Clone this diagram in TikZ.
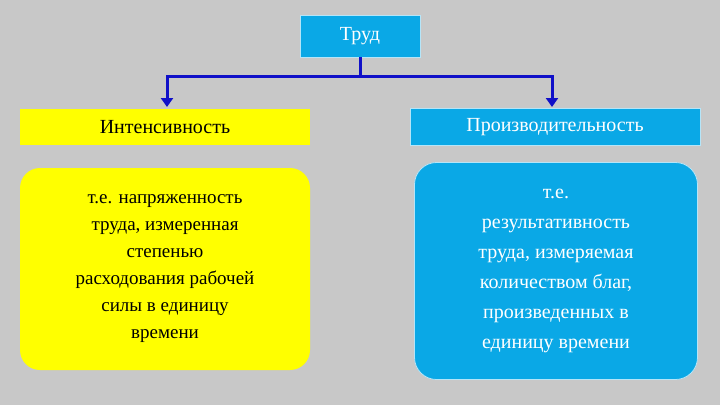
\documentclass[tikz,border=0pt]{standalone}
\usepackage{fontspec}
\setmainfont{Liberation Serif}
\usetikzlibrary{arrows.meta}
\definecolor{bg}{HTML}{C8C8C8}
\definecolor{bl}{HTML}{0AA8E6}
\definecolor{yl}{HTML}{FFFF00}
\definecolor{ln}{HTML}{1010C8}
\begin{document}
\begin{tikzpicture}[x=1pt,y=-1pt,
  bluebox/.style={fill=bl,draw=white!70!bl,line width=0.8pt,text=white,font=\fontsize{20}{24}\selectfont},
  yellbox/.style={fill=yl,draw=none,text=black,font=\fontsize{20}{24}\selectfont},
  conn/.style={ln,line width=3pt,-{Triangle[width=12pt,length=9pt]}}]
\fill[bg] (0,0) rectangle (720,405);
\node[bluebox,minimum width=120pt,minimum height=42pt] (t) at (360,36) {Труд};
\node[yellbox,minimum width=290pt,minimum height=36pt] (i) at (165,127) {Интенсивность};
\node[bluebox,minimum width=290pt,minimum height=37pt] (p) at (555,127) {Производительность};
\node[yellbox,rounded corners=20pt,minimum width=290pt,minimum height=202pt,align=center,font=\fontsize{19}{27}\selectfont] (id) at (165,269) {т.е. напряженность\\труда, измеренная\\степенью\\расходования рабочей\\силы в единицу\\времени};
\node[bluebox,rounded corners=22pt,minimum width=283pt,minimum height=217pt,align=center,font=\fontsize{20}{30}\selectfont] (pd) at (556,271) {т.е.\\результативность\\труда, измеряемая\\количеством благ,\\произведенных в\\единицу времени};
\coordinate (m) at (360,76);
\draw[ln,line width=3pt] (t.south) -- (m);
\draw[conn] (m) -| (167,107);
\draw[conn] (m) -| (552,107);
\end{tikzpicture}
\end{document}
